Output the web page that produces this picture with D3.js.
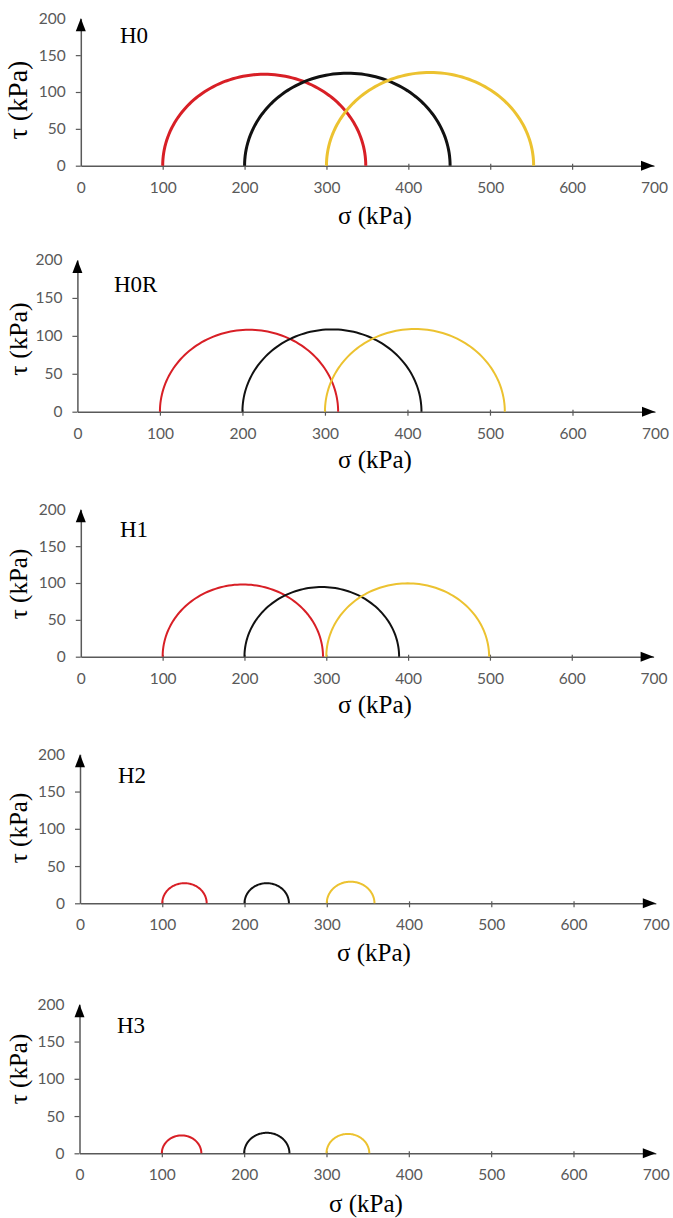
<!DOCTYPE html>
<html>
<head>
<meta charset="utf-8">
<script src="https://cdn.jsdelivr.net/npm/d3@7"></script>
<style>
  body { margin: 0; background: #fff; }
  svg { display: block; }
  .tick text { font-family: Lato, "Open Sans", sans-serif; fill: #595959; }
  .serif { font-family: "Times New Roman", "Liberation Serif", Times, serif; fill: #000; }
</style>
</head>
<body>
<svg id="chart" width="673" height="1218"></svg>
<script>

// ---------------------------------------------------------------------------------------
// DATA  (Mohr circles: sigma3 = confining stress, sigma1 = major stress at failure, kPa)
// ---------------------------------------------------------------------------------------

var tests = ['H0', 'H0R', 'H1', 'H2', 'H3'];
var sigma3 = [100, 200, 300];
var sigma1H0 = [348, 451, 553];
var sigma1H0R = [316, 417, 518];
var sigma1H1 = [296, 389, 499];
var sigma1H2 = [154, 254, 358];
var sigma1H3 = [148, 255, 352];
var sigmaTicks = [0, 100, 200, 300, 400, 500, 600, 700];
var tauTicks = [0, 50, 100, 150, 200];
var circleColors = ['#d81f26', '#111111', '#ecc230'];

var sigma1ByTest = [sigma1H0, sigma1H0R, sigma1H1, sigma1H2, sigma1H3];

// panel placement in the page (x of sigma 0 / 700, y of tau 200 / 0)
var PANELS = [
    {left: 80.8, right: 654,   top: 18.3,   bottom: 165.7,  stroke: 3, title: [120, 42.5], xlab: [375, 224],  ylab: [27, 100],  ylabSize: 28},
    {left: 77.4, right: 655,   top: 260,    bottom: 411.7,  stroke: 2, title: [114, 292],  xlab: [375, 468],  ylab: [27, 339],  ylabSize: 26},
    {left: 80.8, right: 653.6, top: 509.3,  bottom: 656.7,  stroke: 2, title: [120, 537],  xlab: [375, 713],  ylab: [27, 584],  ylabSize: 25},
    {left: 80,   right: 655.8, top: 754.3,  bottom: 903.3,  stroke: 2, title: [118, 783],  xlab: [374, 961],  ylab: [27, 828],  ylabSize: 25},
    {left: 79.5, right: 655.8, top: 1004.3, bottom: 1153.3, stroke: 2, title: [117, 1033], xlab: [366, 1212], ylab: [27, 1069], ylabSize: 25}
];

var _svg = d3.select('#chart');

function drawPanel(name, sigma1, p) {

    var x = d3.scaleLinear().domain([0, 700]).range([p.left, p.right]);
    var y = d3.scaleLinear().domain([0, 200]).range([p.bottom, p.top]);
    var g = _svg.append('g').attr('class', 'panel');

    //axes
    var xAxis = g.append('g')
        .attr('transform', 'translate(0,' + y(0) + ')')
        .call(d3.axisBottom(x).tickValues(sigmaTicks).tickSizeInner(4).tickSizeOuter(0).tickPadding(12));
    var yAxis = g.append('g')
        .attr('transform', 'translate(' + x(0) + ',0)')
        .call(d3.axisLeft(y).tickValues(tauTicks).tickSizeInner(5).tickSizeOuter(0).tickPadding(10));

    [xAxis, yAxis].forEach(function (a) {
        a.selectAll('.domain').attr('stroke', '#595959').attr('stroke-width', 1.5);
        a.selectAll('.tick line').attr('stroke', '#595959').attr('stroke-width', 1.2);
        a.selectAll('.tick text').style('font-size', '15.5px');
    });
    xAxis.selectAll('.tick line').attr('y1', -2)
        .filter(function (d) { return d === 0 || d === 700; }).remove();
    yAxis.selectAll('.tick line')
        .filter(function (d) { return d === 200; }).remove();

    //arrow heads
    g.append('path')
        .attr('d', 'M' + x(700) + ',' + y(0) + 'l-13,-5l0,10z')
        .attr('fill', '#000');
    g.append('path')
        .attr('d', 'M' + x(0) + ',' + y(200) + 'l-5,13l10,0z')
        .attr('fill', '#000');

    //mohr half circles
    var angles = d3.range(0, 181, 2);
    var line = d3.line()
        .x(function (d) { return x(d[0]); })
        .y(function (d) { return y(d[1]); });

    sigma1.forEach(function (s1, i) {
        var c = (s1 + sigma3[i]) / 2;
        var r = (s1 - sigma3[i]) / 2;
        var pts = angles.map(function (a) {
            var t = a * Math.PI / 180;
            return [c - r * Math.cos(t), r * Math.sin(t)];
        });
        g.append('path')
            .attr('d', line(pts))
            .attr('fill', 'none')
            .attr('stroke', circleColors[i])
            .attr('stroke-width', p.stroke);
    });

    //labels
    g.append('text').attr('class', 'serif')
        .attr('x', p.title[0]).attr('y', p.title[1])
        .style('font-size', '23px')
        .text(name);

    g.append('text').attr('class', 'serif')
        .attr('x', p.xlab[0]).attr('y', p.xlab[1])
        .attr('text-anchor', 'middle')
        .style('font-size', '25px')
        .text('σ (kPa)');

    g.append('text').attr('class', 'serif')
        .attr('transform', 'translate(' + p.ylab[0] + ',' + p.ylab[1] + ') rotate(-90)')
        .attr('text-anchor', 'middle')
        .style('font-size', p.ylabSize + 'px')
        .text('τ (kPa)');
}

tests.forEach(function (name, i) {
    drawPanel(name, sigma1ByTest[i], PANELS[i]);
});

</script>
</body>
</html>
